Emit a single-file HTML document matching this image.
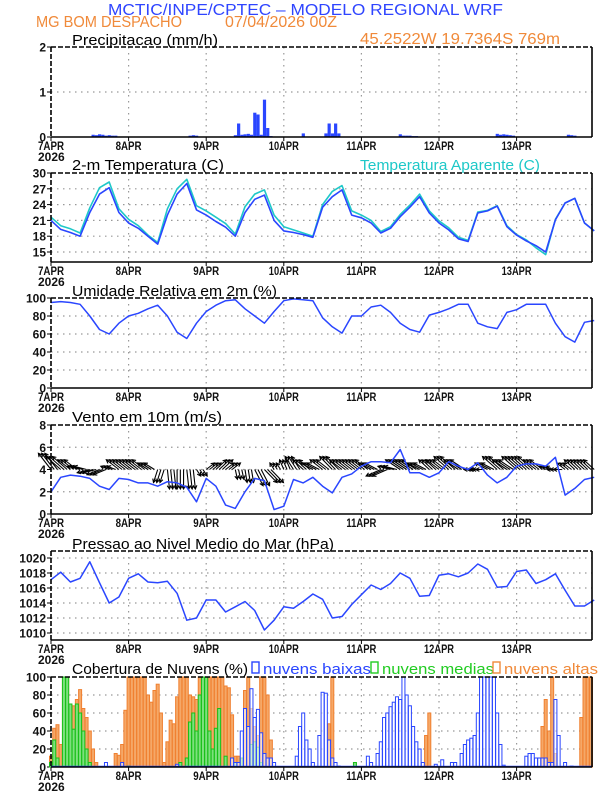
<!DOCTYPE html>
<html><head><meta charset="utf-8"><style>
html,body{margin:0;padding:0;background:#fff;}
svg{display:block;font-family:"Liberation Sans",sans-serif;}
</style></head><body>
<svg id="chart" width="612" height="792" viewBox="0 0 612 792" xmlns="http://www.w3.org/2000/svg">
<text x="108" y="15" font-size="16" fill="#2f45ff" textLength="395" lengthAdjust="spacingAndGlyphs">MCTIC/INPE/CPTEC – MODELO REGIONAL WRF</text>
<text x="36" y="27" font-size="16" fill="#f08a3a" textLength="146" lengthAdjust="spacingAndGlyphs">MG BOM DESPACHO</text>
<text x="225" y="27" font-size="16" fill="#f08a3a" textLength="112" lengthAdjust="spacingAndGlyphs">07/04/2026 00Z</text>
<text x="360" y="44" font-size="16" fill="#f08a3a" textLength="200" lengthAdjust="spacingAndGlyphs">45.2522W 19.7364S 769m</text>
<g id="g"></g>
</svg>
<script>
// ---------- data ----------
const days = ["7APR","8APR","9APR","10APR","11APR","12APR","13APR"];
const precipHours = [13,14,15,16,17,18,19,20,43,44,45,57,58,59,60,61,62,63,64,65,66,67,68,78,85,86,87,88,89,108,109,110,111,112,113,138,139,140,141,142,143,160,161,162];
const precipVals  = [0.05,0.04,0.06,0.05,0.03,0.04,0.03,0.03,0.03,0.04,0.03,0.04,0.3,0.05,0.06,0.07,0.05,0.54,0.5,0.05,0.83,0.2,0.02,0.08,0.08,0.3,0.08,0.3,0.08,0.06,0.03,0.03,0.03,0.02,0.02,0.07,0.05,0.06,0.05,0.04,0.03,0.05,0.04,0.03];
// 3-hourly series (hour = index*3)
const temp = [21.0,19.3,18.7,18.0,22.5,26.0,27.2,22.5, 20.5,19.5,18.0,16.5,22.0,26.0,28.0,23.0, 22.0,20.8,19.7,18.0,22.5,25.0,25.8,21.0, 19.0,18.7,18.3,17.8,23.5,25.5,26.8,22.0, 21.5,20.5,18.6,19.5,21.7,23.5,25.5,22.4, 20.5,19.2,17.5,17.0,22.4,22.8,23.7,19.8, 18.2,17.1,16.2,15.0,21.1,24.3,25.2,20.5,19.0];
const tempApparent = [21.6,20.0,19.4,18.6,23.4,27.2,28.3,23.2, 21.2,20.0,18.2,16.8,23.2,27.0,28.8,23.8, 22.8,21.6,20.4,18.4,23.6,26.0,26.8,22.0, 19.8,19.2,18.6,18.0,24.0,26.5,27.6,22.8, 22.0,21.0,18.9,19.8,22.1,23.9,26.0,22.8, 20.9,19.6,17.8,17.2,22.6,22.9,23.8,20.0, 18.3,17.3,15.8,14.5,21.2,24.3,25.2,20.5,19.0];
const humidity = [95,96,95,93,80,65,60,72, 80,83,88,92,80,62,55,72, 85,92,97,98,88,80,72,85, 97,99,98,97,78,68,61,80, 80,90,92,84,72,65,62,81, 84,88,93,93,72,68,66,84, 87,93,93,93,72,57,51,73,75];
const windSpeed = [2.0,3.3,3.5,3.4,3.2,2.5,2.2,3.2, 3.1,2.8,2.8,2.5,2.9,2.8,2.4,1.1, 3.2,2.5,0.8,0.5,2.0,3.2,3.0,0.4, 0.7,3.1,2.8,3.3,2.5,1.9,3.3,3.6, 4.3,4.7,4.7,4.6,5.8,3.7,3.7,3.3, 3.7,4.7,4.3,4.0,4.6,3.5,2.8,3.3, 4.3,4.5,4.5,4.3,5.1,1.7,2.3,3.1,3.3];
const windU = [-3,-3.5,-3,-3,-3,-3,-2,-3, -3,-3,-2.5,-1,0.5,0,0.5,1, 2,2.5,2,0.5,0.5,2,3,-1, -1,-2,-2.5,-3,-3,-3,-3,-3, -3,-3,-3.5,-3,-3.5,-3.5,-3,-2.5, -3,-3.5,-3.5,-1,-2,-3,-3.5,-3.5, -3.5,-3.5,-3,-1.5,-2,-2,-2.5,-2.5,-2.5];
const windV = [2.5,2,1.5,0.5,-0.5,-0.8,0.5,1.5, 1.5,1.5,1,-2,-3,-3,-3,-1, 1,1.5,1,-1.5,-2,-2.5,-2,1, 1.5,2,1.5,1,1.5,2,1.5,1.5, 1.5,1,-1,0.5,1.5,1.5,1,1.5, 1.5,2,1.5,0,0,1,2,1.5, 2,2,1.5,0.5,0,1,1.5,1.5,1.5];
const pressure = [1017.1,1018.1,1016.8,1017.3,1019.5,1016.7,1014.0,1014.8, 1017.3,1017.9,1016.8,1016.7,1016.9,1015.3,1011.7,1012.0, 1014.4,1014.4,1012.8,1013.5,1014.2,1013.0,1010.4,1011.7, 1013.5,1013.3,1014.2,1015.2,1014.5,1012.0,1012.2,1013.8, 1015.1,1016.4,1015.8,1016.6,1018.0,1017.3,1014.9,1015.0, 1017.7,1017.9,1017.5,1018.0,1019.2,1018.5,1016.1,1016.2, 1018.2,1018.4,1016.6,1017.1,1017.9,1015.7,1013.6,1013.6,1014.4];
// hourly cloud cover (%)
const cloudLow = [
0,0,0,0,0,0,0,0,0,0,0,0,0,0,0,0,0,5,0,0,0,0,5,0,
0,0,0,0,0,0,0,0,0,0,0,0,0,0,0,3,0,0,0,0,0,0,0,0,
0,0,0,0,0,0,0,0,10,5,5,40,65,45,87,55,64,38,15,10,10,5,0,0,
0,0,0,0,12,45,60,30,20,5,0,35,83,82,30,10,5,1,0,0,0,0,0,0,
0,0,12,5,0,15,28,55,60,67,72,78,75,100,80,68,45,28,20,5,0,0,0,3,
0,8,0,0,5,5,0,15,25,30,32,35,60,100,100,100,100,100,60,25,2,0,0,0,
0,0,0,12,15,15,10,10,10,10,5,5,75,35,0,5,0,1,0,0,0,0,0,0];
const cloudMid = [
5,30,10,0,100,100,70,42,70,60,40,20,5,0,0,0,0,0,0,0,0,0,0,0,
1,0,0,0,0,0,0,0,0,0,0,0,0,0,0,0,5,0,10,50,
60,40,80,100,100,40,20,43,65,0,12,0,0,5,0,10,0,0,25,28,22,5,0,0,
0,0,0,0,0,0,0,0,0,0,0,0,0,0,0,0,0,0,0,0,0,0,0,0,
0,0,5,0,0,0,0,0,0,0,0,0,0,0,0,0,0,0,0,0,0,0,0,0,
0,0,0,0,0,0,0,0,0,0,0,0,0,0,0,0,0,0,0,0,0,0,0,0,
0,0,0,0,0,0,0,0,0,0,0,0,0,0,0,0,0,0,0,0,0,0,0,0];
const cloudHigh = [
12,43,47,25,100,100,70,68,75,86,65,55,40,20,5,0,0,0,0,0,15,13,25,63,
100,100,100,100,100,100,80,72,85,92,60,5,28,52,48,78,100,100,100,80,78,75,100,100,
100,100,100,100,100,100,90,88,58,12,12,0,85,100,65,45,35,100,100,80,30,0,0,0,
0,0,0,0,0,0,0,0,0,0,0,0,0,0,48,100,0,0,0,0,0,0,0,0,
0,0,0,0,0,0,0,0,0,0,0,0,0,0,0,0,0,0,0,0,35,60,0,0,
0,0,0,0,0,0,0,0,0,0,0,0,0,0,0,0,0,0,0,0,0,0,0,0,
0,0,0,0,0,0,0,0,45,75,40,100,15,0,0,0,0,0,0,0,55,100,100,100];

// ---------- helpers ----------
const NS="http://www.w3.org/2000/svg";
const G=document.getElementById('g');
const X0=51, DAYW=77.6, XR=592;
function xH(h){return X0+h*DAYW/24;}
function el(tag,attrs,parent){const e=document.createElementNS(NS,tag);for(const k in attrs)e.setAttribute(k,attrs[k]);(parent||G).appendChild(e);return e;}
function txt(s,attrs,parent){const e=el('text',attrs,parent);e.textContent=s;return e;}

function panel(name,top,bot,vmin,vmax,ticks,yOf){
  const g=el('g',{});
  
  
  ticks.forEach(t=>{const y=yOf(t); if(y>top+1&&y<bot-1){const l=el('line',{x1:X0,x2:XR,y1:y,y2:y,stroke:'#999','stroke-width':1.2,'stroke-dasharray':'1.5,4.5'},g);}});
  for(let d=1;d<7;d++){const x=xH(d*24);const l=el('line',{x1:x,x2:x,y1:top,y2:bot,stroke:'#999','stroke-width':1.2,'stroke-dasharray':'1.5,4.5'},g);}
  ticks.forEach(t=>{const y=yOf(t);const tx=txt(String(t),{x:46,y:y+4.5,'font-size':12,'font-weight':'bold','text-anchor':'end',fill:'#111'},g);
    el('line',{x1:X0-4,x2:X0,y1:y,y2:y,stroke:'#000'},g);});
  days.forEach((d,i)=>{const x=xH(i*24);const tx=txt(d,{x:x,y:bot+13,'font-size':12,'font-weight':'bold','text-anchor':'middle',fill:'#111',textLength:d.length>4?30:26,lengthAdjust:'spacingAndGlyphs'},g);
    el('line',{x1:x,x2:x,y1:bot,y2:bot+4,stroke:'#000'},g);});
  const yr=txt('2026',{x:38,y:bot+24,'font-size':12,'font-weight':'bold',fill:'#111'},g);
  
  return g;
}
function frame(top,bot){
  const f=el('g',{});
  
  
  el('line',{x1:X0,x2:XR,y1:top,y2:top,stroke:'#000','stroke-width':1.6,'stroke-dasharray':'5,2'},f);
  el('line',{x1:X0,x2:X0,y1:top,y2:bot,stroke:'#000','stroke-width':1.6,'stroke-dasharray':'5,2'},f);
  el('line',{x1:XR,x2:XR,y1:top,y2:bot,stroke:'#000','stroke-width':1.6},f);
  el('line',{x1:X0,x2:XR,y1:bot,y2:bot,stroke:'#000','stroke-width':1.6},f);
}
function title(s,x,y,color,len,name){const t=txt(s,{x:x,y:y,'font-size':15,fill:color,textLength:len,lengthAdjust:'spacingAndGlyphs'});return t;}
function series(arr,yOf,color,name,w){
  let d='';arr.forEach((v,i)=>{d+=(i?'L':'M')+xH(i*3).toFixed(1)+','+yOf(v).toFixed(1);});
  const p=el('path',{d:d,fill:'none',stroke:color,'stroke-width':w||1.6,'stroke-linejoin':'round'});
  return p;
}

// ---------- Panel 1: precipitation ----------
{const top=47,bot=137;const yOf=v=>bot-v*(bot-top)/2;
 panel('precip',top,bot,0,2,[0,1,2],yOf);
 title('Precipitacao (mm/h)',72,45,'#000',146,'precip-title');
 precipHours.forEach((h,i)=>{const x=xH(h);const y=yOf(precipVals[i]);
   const b=el('rect',{x:x-1.5,y:y,width:3.2,height:bot-y,fill:'#2a46ff'});
   
   });
 frame(top,bot);}

// ---------- Panel 2: temperature ----------
{const top=173,bot=262;const yOf=v=>173+(30-v)*79/15;
 panel('temperature',top,bot,13,30,[15,18,21,24,27,30],yOf);
 title('2-m Temperatura (C)',72,170,'#000',152,'temperature-title');
 title('Temperatura Aparente (C)',360,170,'#1ec8c8',180,'apparent-temperature-legend');
 series(tempApparent,yOf,'#1ec8c8','apparent-temperature-line',1.6);
 series(temp,yOf,'#2a46ff','temperature-line',1.6);
 frame(top,bot);}

// ---------- Panel 3: humidity ----------
{const top=298,bot=388;const yOf=v=>bot-v*0.9;
 panel('humidity',top,bot,0,100,[0,20,40,60,80,100],yOf);
 title('Umidade Relativa em 2m (%)',72,296,'#000',205,'humidity-title');
 series(humidity,yOf,'#2a46ff','humidity-line',1.5);
 frame(top,bot);}

// ---------- Panel 4: wind ----------
{const top=425,bot=514;const yOf=v=>bot-v*(bot-top)/8;
 panel('wind',top,bot,0,8,[0,2,4,6,8],yOf);
 title('Vento em 10m (m/s)',72,422,'#000',150,'wind-title');
 const base=yOf(4),kx=4.2,ky=6.5,hl=4;
 function arrow(x,u,v){
   const x2=x+u*kx,y2=base-v*ky;const ang=Math.atan2(y2-base,x2-x);
   const a1=ang+Math.PI-0.5,a2=ang+Math.PI+0.5;
   const ar=el('path',{d:`M${x},${base}L${x2},${y2}M${x2+hl*Math.cos(a1)},${y2+hl*Math.sin(a1)}L${x2},${y2}L${x2+hl*Math.cos(a2)},${y2+hl*Math.sin(a2)}`,stroke:'#000','stroke-width':1.1,fill:'none'});
   
   
 }
 windU.forEach((u,i)=>{
   arrow(xH(i*3),u,windV[i]);
   if(i<windU.length-1){arrow(xH(i*3+1),u,windV[i]);arrow(xH(i*3+2),u,windV[i]);}
 });
 series(windSpeed,yOf,'#2a46ff','wind-speed-line',1.5);
 frame(top,bot);}

// ---------- Panel 5: pressure ----------
{const top=551,bot=640;const yOf=v=>558+(1020-v)*7.5;
 panel('pressure',top,bot,1009,1021,[1010,1012,1014,1016,1018,1020],yOf);
 title('Pressao ao Nivel Medio do Mar (hPa)',72,549,'#000',262,'pressure-title');
 series(pressure,yOf,'#2a46ff','pressure-line',1.5);
 frame(top,bot);}

// ---------- Panel 6: clouds ----------
{const top=677,bot=767;const yOf=v=>bot-v*0.9;
 panel('clouds',top,bot,0,100,[0,20,40,60,80,100],yOf);
 title('Cobertura de Nuvens (%)',72,674,'#000',176,'clouds-title');
 const leg=[['nuvens baixas','#2a46ff','#fff',252,108],['nuvens medias','#22cc22','#fff',371,112],['nuvens altas','#f08a3a','#fff',493,94]];
 leg.forEach(l=>{const b=el('rect',{x:l[3],y:662,width:7,height:11,fill:l[2],stroke:l[1],'stroke-width':1.4});
   
   title(l[0],l[3]+11,674,l[1],l[4],'cloud-legend-label');});
 const bw=3.0;
 cloudHigh.forEach((v,h)=>{if(v<=0)return;const y=yOf(v);
   const b=el('rect',{x:xH(h)-bw/2,y:y,width:bw,height:bot-y,fill:'#f5a868',stroke:'#f08030','stroke-width':1});
   });
 cloudMid.forEach((v,h)=>{if(v<=0)return;const y=yOf(v);
   const b=el('rect',{x:xH(h)-bw/2,y:y,width:bw,height:bot-y,fill:'#7ee07e',stroke:'#18c018','stroke-width':1});
   });
 cloudLow.forEach((v,h)=>{if(v<=0)return;const y=yOf(v);
   const b=el('rect',{x:xH(h)-bw/2,y:y,width:bw,height:bot-y,fill:'#fff','fill-opacity':0.6,stroke:'#2a46ff','stroke-width':1});
   });
 el('line',{x1:X0,x2:XR,y1:bot-0.5,y2:bot-0.5,stroke:'#2a46ff','stroke-width':1.5});
 frame(top,bot);}
</script>
</body></html>
